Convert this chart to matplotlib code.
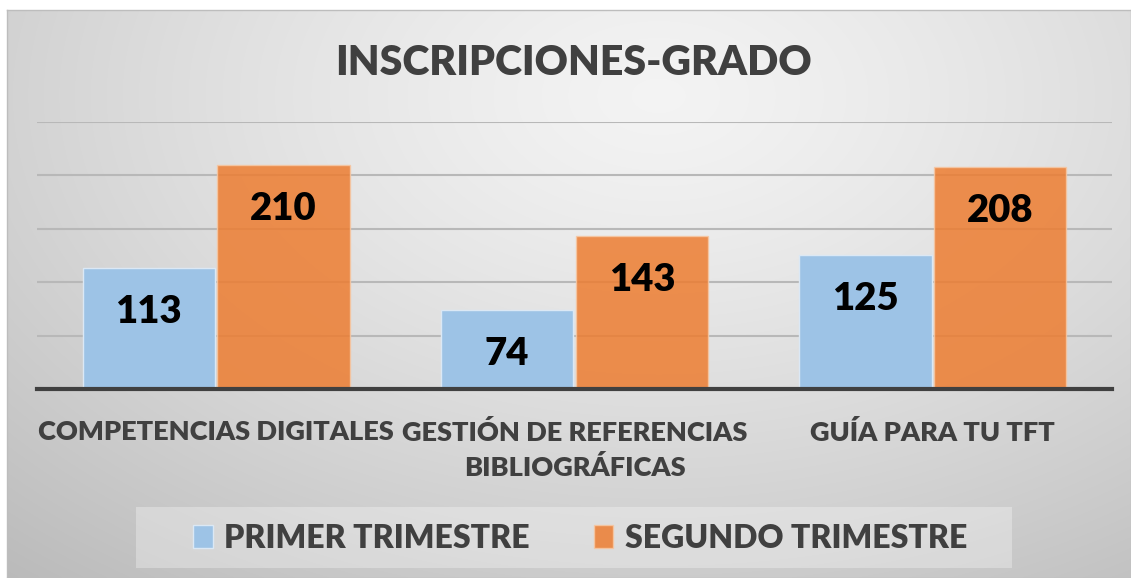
import numpy as np
import matplotlib
matplotlib.use("Agg")
import matplotlib.pyplot as plt
from matplotlib.patches import Rectangle

categories = ["COMPETENCIAS DIGITALES", "GESTIÓN DE REFERENCIAS\nBIBLIOGRÁFICAS", "GUÍA PARA TU TFT"]
series_names = ["PRIMER TRIMESTRE", "SEGUNDO TRIMESTRE"]
primer = [113, 74, 125]
segundo = [210, 143, 208]
title = "INSCRIPCIONES-GRADO"

W, H = 1131, 578
plt.rcParams['font.family'] = ['Lato', 'DejaVu Sans']
plt.rcParams['font.weight'] = 'heavy'

fig = plt.figure(figsize=(W / 100, H / 100), dpi=100)
fig.patch.set_facecolor('white')

# background frame with radial gradient
bg = fig.add_axes([7 / W, 0, 1 - 7 / W, 1 - 10 / H])
ny, nx = 300, 600
yy, xx = np.mgrid[0:1:ny * 1j, 0:1:nx * 1j]
d = np.sqrt(((xx - 0.58) / 0.75) ** 2 + ((yy - 0.15) / 0.95) ** 2)
val = 0.955 - 0.18 * np.clip(d, 0, 1.3) ** 1.3
bg.imshow(np.dstack([val, val, val]), aspect='auto', extent=(0, 1, 1, 0), interpolation='bilinear')
bg.set_xlim(0, 1); bg.set_ylim(1, 0)
bg.set_xticks([]); bg.set_yticks([])
for s in bg.spines.values():
    s.set_edgecolor('#bdbdbd'); s.set_linewidth(1)
bg.set_zorder(-10)

# plot area
ax = fig.add_axes([37 / W, 1 - 389 / H, (1112 - 37) / W, (389 - 122) / H])
ax.patch.set_alpha(0)
x = np.arange(len(categories))
w = 0.37
b1 = ax.bar(x - w / 2 - 0.003, primer, width=w, color='#9DC3E6', edgecolor='#dbe8f5', linewidth=1, zorder=3)
b2 = ax.bar(x + w / 2 + 0.003, segundo, width=w, color='#ED7D31', alpha=0.85, edgecolor='#f6c7a3', linewidth=1, zorder=3)
ax.set_xlim(-0.5, 2.5)
ax.set_ylim(0, 250)
ax.set_yticks(range(0, 251, 50))
ax.yaxis.grid(True, color='#b8b8b8', linewidth=1.5, zorder=0)
ax.set_axisbelow(True)
ax.tick_params(axis='y', length=0, labelleft=False)
ax.tick_params(axis='x', length=0, pad=22)
ax.set_xticks(x)
ax.set_xticklabels(categories, fontsize=19.5, fontweight='heavy', color='#404040', linespacing=1.5)
for s in ['top', 'left', 'right']:
    ax.spines[s].set_visible(False)
ax.spines['bottom'].set_color('#404040')
ax.spines['bottom'].set_linewidth(3)
ax.spines['bottom'].set_zorder(5)

for bars, vals in ((b1, primer), (b2, segundo)):
    for r, v in zip(bars, vals):
        ax.annotate(str(v), (r.get_x() + r.get_width() / 2, v), xytext=(0, -44),
                    textcoords='offset pixels', ha='center', va='center',
                    fontsize=27.5, fontweight='heavy', color='black', zorder=6)

fig.text(574 / W, 1 - 63 / H, title, ha='center', va='center', fontsize=29.5,
         fontweight='heavy', color='#404040')

# legend box
fig.patches.append(Rectangle((136 / W, 1 - 568 / H), 876 / W, 61 / H, transform=fig.transFigure,
                             facecolor='white', alpha=0.3, edgecolor='none', zorder=1))
leg = fig.legend([b1, b2], series_names, loc='center', bbox_to_anchor=(580 / W, 1 - 538 / H),
                 ncol=2, frameon=False, prop={'family': ['Lato'], 'weight': 'heavy', 'size': 23},
                 labelcolor='#404040', handlelength=0.62, handleheight=0.7, handletextpad=0.35,
                 columnspacing=2.0)

fig.savefig('out.png', dpi=100)
